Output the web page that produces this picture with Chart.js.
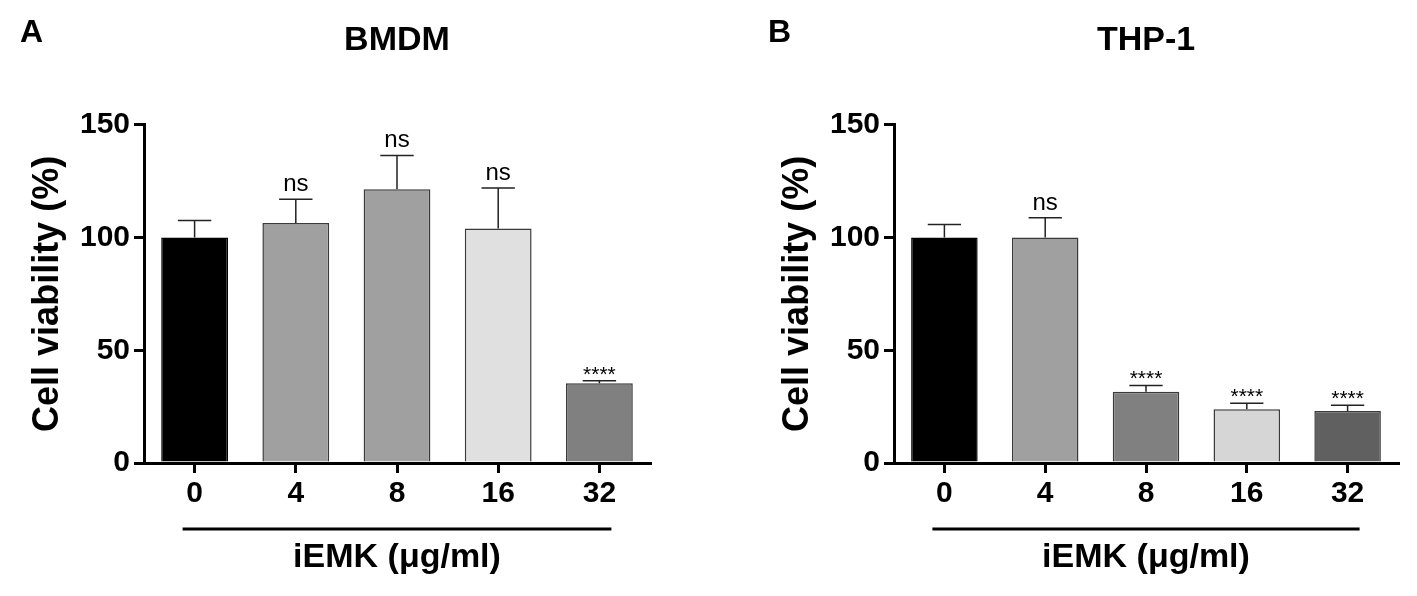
<!DOCTYPE html>
<html>
<head>
<meta charset="utf-8">
<title>Cell viability - BMDM / THP-1</title>
<script src="https://cdn.jsdelivr.net/npm/chart.js@4.4.1/dist/chart.umd.min.js"></script>
<style>
  html, body { margin: 0; padding: 0; background: #fff; }
  #wrap { position: relative; width: 1417px; height: 596px; overflow: hidden; }
  .panel { position: absolute; top: 0; height: 596px; }
  #panelA { left: 0; width: 708px; }
  #panelB { left: 708px; width: 709px; }
</style>
</head>
<body>
<div id="wrap">
  <div class="panel" id="panelA"><canvas id="chartA"></canvas></div>
  <div class="panel" id="panelB"><canvas id="chartB"></canvas></div>
</div>
<script>
// Data
const doses = ['0', '4', '8', '16', '32'];
const yTicks = [0, 50, 100, 150];

const bmdmMean = [100, 106.5, 121.4, 104, 35.4];
const bmdmErr = [7.5, 10.5, 15, 18, 1.1];
const bmdmSig = ['', 'ns', 'ns', 'ns', '****'];
const bmdmColors = ['#000000', '#a0a0a0', '#a0a0a0', '#e0e0e0', '#808080'];

const thpMean = [100, 100, 31.6, 23.8, 23.1];
const thpErr = [5.8, 8.8, 2.8, 2.7, 2.5];
const thpSig = ['', 'ns', '****', '****', '****'];
const thpColors = ['#000000', '#a0a0a0', '#808080', '#d6d6d6', '#606060'];

const FONT = "'Liberation Sans', Arial, Helvetica, sans-serif";

// Error bars (upper only), significance marks, panel letter and the bar under the dose labels
const extrasPlugin = {
    id: 'extras',
    afterDatasetsDraw(chart, args, opts) {
        const ctx = chart.ctx;
        const y = chart.scales.y;
        const meta = chart.getDatasetMeta(0);
        ctx.save();
        opts.means.forEach((m, i) => {
            const bar = meta.data[i];
            const cx = bar.x;
            const top = y.getPixelForValue(m);
            const errTop = y.getPixelForValue(m + opts.errs[i]);
            const half = bar.width / 4;
            ctx.strokeStyle = '#222';
            ctx.lineWidth = 1.5;
            ctx.beginPath();
            ctx.moveTo(cx, top);
            ctx.lineTo(cx, errTop);
            ctx.moveTo(cx - half, errTop);
            ctx.lineTo(cx + half, errTop);
            ctx.stroke();

            const sig = opts.sig[i];
            if (sig) {
                ctx.fillStyle = '#000';
                ctx.textAlign = 'center';
                ctx.textBaseline = 'alphabetic';
                if (sig === 'ns') {
                    ctx.font = '24px ' + FONT;
                    ctx.fillText(sig, cx, errTop - 8);
                } else {
                    ctx.font = '21px ' + FONT;
                    ctx.fillText(sig, cx, errTop);
                }
            }
        });
        ctx.restore();
    },
    afterDraw(chart, args, opts) {
        const ctx = chart.ctx;
        const x = chart.scales.x;
        ctx.save();
        // panel letter
        ctx.fillStyle = '#000';
        ctx.font = 'bold 32px ' + FONT;
        ctx.textAlign = 'left';
        ctx.textBaseline = 'middle';
        ctx.fillText(opts.letter, opts.letterX, 33);
        // line under the dose labels
        const lineY = chart.chartArea.bottom + 66;
        ctx.strokeStyle = '#000';
        ctx.lineWidth = 3;
        ctx.beginPath();
        ctx.moveTo(x.getPixelForValue(0) - 12, lineY);
        ctx.lineTo(x.getPixelForValue(doses.length - 1) + 12, lineY);
        ctx.stroke();
        ctx.restore();
    }
};

function makeChart(canvasId, title, means, errs, sig, colors, letter, letterX, padLeft, padRight) {
    const ctx = document.getElementById(canvasId).getContext('2d');
    return new Chart(ctx, {
        type: 'bar',
        data: {
            labels: doses,
            datasets: [{
                data: means,
                backgroundColor: colors,
                borderColor: colors.map(c => c === '#000000' ? '#000000' : '#3a3a3a'),
                borderWidth: 1.5,
                borderSkipped: 'bottom',
                barPercentage: 0.66,
                categoryPercentage: 1
            }]
        },
        options: {
            responsive: true,
            maintainAspectRatio: false,
            animation: false,
            layout: {
                padding: { left: padLeft, right: padRight, top: 0, bottom: 0 }
            },
            plugins: {
                legend: { display: false },
                tooltip: { enabled: false },
                title: {
                    display: true,
                    text: title,
                    fullSize: false,
                    color: '#000',
                    font: { family: FONT, size: 34, weight: 'bold' },
                    padding: { top: 20, bottom: 64 }
                },
                extras: { means: means, errs: errs, sig: sig, letter: letter, letterX: letterX }
            },
            scales: {
                x: {
                    grid: {
                        display: true,
                        drawOnChartArea: false,
                        drawTicks: true,
                        offset: false,
                        tickLength: 10,
                        lineWidth: 3,
                        color: '#000'
                    },
                    border: { display: true, width: 3, color: '#000' },
                    ticks: {
                        color: '#000',
                        padding: 3,
                        font: { family: FONT, size: 30, weight: 'bold' }
                    },
                    title: {
                        display: true,
                        text: 'iEMK (μg/ml)',
                        color: '#000',
                        font: { family: FONT, size: 34, weight: 'bold' },
                        padding: { top: 20, bottom: 18 }
                    },
                    afterFit(scale) { scale.height = 133; }
                },
                y: {
                    min: 0,
                    max: 150,
                    afterBuildTicks(scale) { scale.ticks = yTicks.map(v => ({ value: v })); },
                    grid: {
                        display: true,
                        drawOnChartArea: false,
                        drawTicks: true,
                        tickLength: 10,
                        lineWidth: 3,
                        color: '#000'
                    },
                    border: { display: true, width: 3, color: '#000' },
                    ticks: {
                        color: '#000',
                        padding: 4,
                        font: { family: FONT, size: 30, weight: 'bold' }
                    },
                    title: {
                        display: true,
                        text: 'Cell viability (%)',
                        color: '#000',
                        font: { family: FONT, size: 36, weight: 'bold' },
                        padding: { top: 26, bottom: 0 }
                    },
                    afterFit(scale) { scale.width = 144; }
                }
            }
        },
        plugins: [extrasPlugin]
    });
}

makeChart('chartA', 'BMDM', bmdmMean, bmdmErr, bmdmSig, bmdmColors, 'A', 20, 0, 58);
makeChart('chartB', 'THP-1', thpMean, thpErr, thpSig, thpColors, 'B', 60, 42, 19);
</script>
</body>
</html>
